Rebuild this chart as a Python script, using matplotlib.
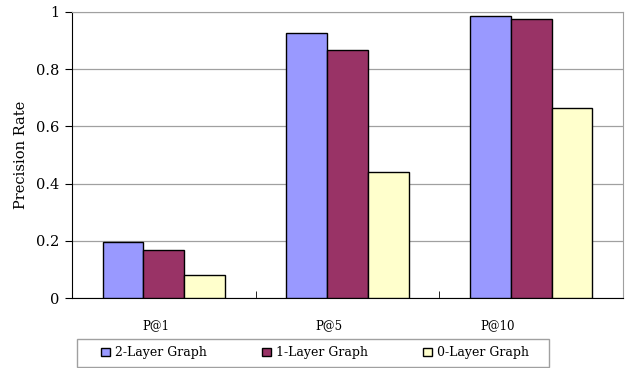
"""Grouped bar chart of precision at K for three graph depths."""

import numpy as np
import matplotlib

matplotlib.use("Agg")
import matplotlib.pyplot as plt  # noqa: E402
from matplotlib.patches import Rectangle  # noqa: E402

categories = ["P@1", "P@5", "P@10"]
two_layer = [0.196, 0.928, 0.985]
one_layer = [0.169, 0.867, 0.976]
zero_layer = [0.080, 0.440, 0.665]
series_names = ["2-Layer Graph", "1-Layer Graph", "0-Layer Graph"]
colors = ["#9999ff", "#993366", "#ffffcc"]

plt.rcParams["font.family"] = ["DejaVu Serif"]

fig = plt.figure(figsize=(6.25, 3.68), dpi=100)
ax = fig.add_axes([0.1152, 0.1902, 0.8816, 0.7772])

x = np.arange(len(categories))
width = 0.222
for i, (vals, name, c) in enumerate(zip([two_layer, one_layer, zero_layer], series_names, colors)):
    ax.bar(x + (i - 1) * width, vals, width, color=c, edgecolor="black",
           linewidth=1.0, label=name, zorder=3)

ax.set_xlim(-0.5, len(categories) - 0.5)
ax.set_ylim(0, 1)
ax.set_yticks([0, 0.2, 0.4, 0.6, 0.8, 1])
ax.set_yticklabels(["0", "0.2", "0.4", "0.6", "0.8", "1"], fontsize=10.5)
ax.yaxis.grid(True, color="#a0a0a0", linewidth=0.9, zorder=0)

# category labels sit a little left of their groups; tick marks on group boundaries
ax.set_xticks(x - np.array([0.043, 0.101, 0.181]))
ax.set_xticklabels(categories, fontsize=8.5)
ax.tick_params(axis="x", length=0, pad=15)
ax.set_xticks([0.5, 1.5], minor=True)
ax.tick_params(axis="x", which="minor", direction="in", length=5, color="black")
ax.tick_params(axis="y", direction="out", length=5, pad=4)

ax.spines["left"].set_color("black")
ax.spines["bottom"].set_color("black")
ax.spines["top"].set_color("#a0a0a0")
ax.spines["right"].set_color("#a0a0a0")
ax.set_ylabel("Precision Rate", fontsize=10.5, labelpad=6)

fig.legend(loc="center", bbox_to_anchor=(0.504, 0.041), ncol=3, fontsize=9,
           frameon=False, handlelength=0.7, handleheight=0.7,
           handletextpad=0.4, columnspacing=4.4)
fig.add_artist(Rectangle((0.1232, 0.0027), 0.7552, 0.0761, transform=fig.transFigure,
                         facecolor="none", edgecolor="#a0a0a0", linewidth=1.0))

fig.savefig("out.png", dpi=100)
plt.close(fig)
